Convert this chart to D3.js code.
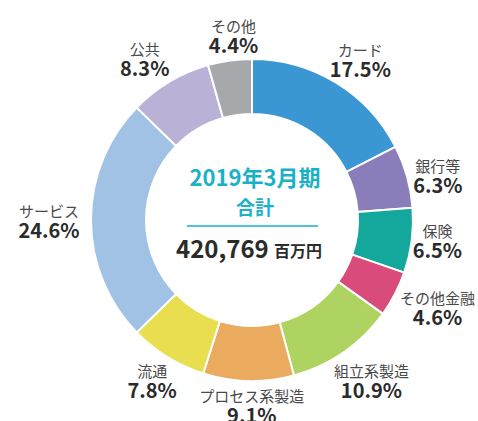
<!DOCTYPE html>
<html>
<head>
<meta charset="utf-8">
<script src="https://d3js.org/d3.v7.min.js"></script>
<style>
  body { margin: 0; background: #fff; }
  svg { display: block; font-family: "Noto Sans CJK JP", "Noto Sans", sans-serif; }
</style>
</head>
<body>
<div id="chart"></div>
<script>
// segments, clockwise from 12 o'clock
var categories = ["カード", "銀行等", "保険", "その他金融", "組立系製造", "プロセス系製造", "流通", "サービス", "公共", "その他"]
var shares = [17.5, 6.3, 6.5, 4.6, 10.9, 9.1, 7.8, 24.6, 8.3, 4.4]
var colors = ["#3b97d3", "#8b7cba", "#14a89d", "#d84b7b", "#aed361", "#eaab5e", "#e8de50", "#a1c2e5", "#bab1d7", "#a7a8ab"]

var centerTitle = ["2019年3月期", "合計"]
var totalValue = "420,769"
var totalUnit = "百万円"

var W = 478, H = 421
var cx = 252, cy = 220
var rOuter = 161, rInner = 106, rLabel = 192

// small hand nudges so labels sit where the original has them
var labelNudge = [[8, 9], [1, 13], [-5, 1], [15, 5], [10, 8], [4, -1], [1, 3], [-11, 6], [-9, 9], [8, 11]]

var svg = d3.select("#chart").append("svg")
  .attr("width", W)
  .attr("height", H)

var g = svg.append("g").attr("transform", "translate(" + cx + "," + cy + ")")

var pie = d3.pie().sort(null).value(function (d) { return d.v })
var data = pie(categories.map(function (c, i) { return { name: c, v: shares[i], color: colors[i] } }))

var arc = d3.arc().innerRadius(rInner).outerRadius(rOuter)
var labelArc = d3.arc().innerRadius(rLabel).outerRadius(rLabel)

// slices
g.selectAll("path.slice")
  .data(data)
  .enter()
  .append("path")
    .attr("class", "slice")
    .attr("d", arc)
    .attr("fill", function (d) { return d.data.color })
    .attr("stroke", "#fff")
    .attr("stroke-width", 2)

// outer labels: name + percent
var lab = g.selectAll("g.lab")
  .data(data)
  .enter()
  .append("g")
    .attr("class", "lab")
    .attr("transform", function (d, i) {
      var p = labelArc.centroid(d)
      return "translate(" + (p[0] + labelNudge[i][0]) + "," + (p[1] + labelNudge[i][1]) + ")"
    })

lab.append("text")
  .attr("text-anchor", "middle")
  .attr("y", -9)
  .attr("font-size", 15)
  .attr("fill", "#4a4a4a")
  .text(function (d) { return d.data.name })

lab.append("text")
  .attr("text-anchor", "middle")
  .attr("y", 12)
  .attr("font-size", 20)
  .attr("font-weight", "bold")
  .attr("fill", "#2b2b2b")
  .text(function (d) { return d.data.v.toFixed(1) + "%" })

// center block
var c = g.append("g")
c.append("text")
  .attr("text-anchor", "middle")
  .attr("x", 3).attr("y", -34)
  .attr("font-size", 22)
  .attr("font-weight", "bold")
  .attr("fill", "#19b0c8")
  .text(centerTitle[0])
c.append("text")
  .attr("text-anchor", "middle")
  .attr("x", 3).attr("y", -5)
  .attr("font-size", 19)
  .attr("font-weight", "bold")
  .attr("fill", "#19b0c8")
  .text(centerTitle[1])
c.append("line")
  .attr("x1", -65).attr("x2", 66)
  .attr("y1", 6).attr("y2", 6)
  .attr("stroke", "#4fc3d6")
  .attr("stroke-width", 2)
c.append("text")
  .attr("x", -76).attr("y", 38)
  .attr("font-size", 24)
  .attr("font-weight", "bold")
  .attr("fill", "#2b2b2b")
  .text(totalValue)
c.append("text")
  .attr("x", 22).attr("y", 37)
  .attr("font-size", 16)
  .attr("font-weight", "bold")
  .attr("fill", "#2b2b2b")
  .text(totalUnit)
</script>
</body>
</html>
